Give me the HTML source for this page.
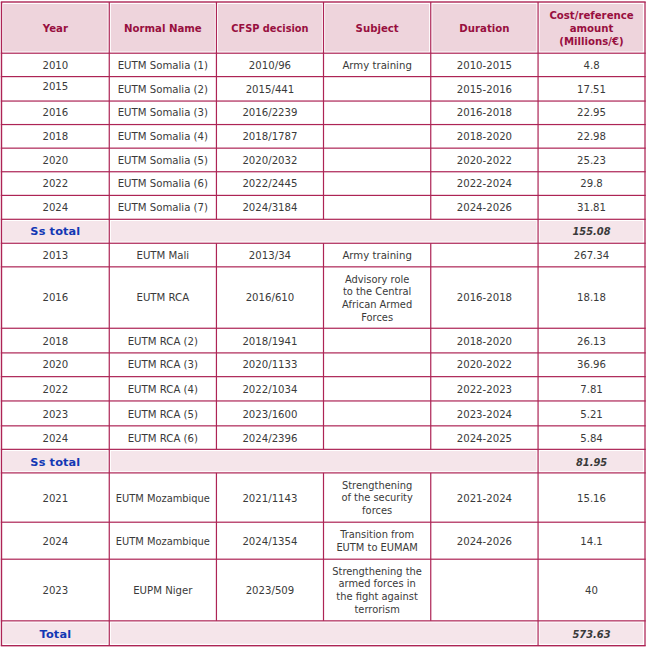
<!DOCTYPE html>
<html lang="en">
<head>
<meta charset="utf-8">
<title>EU military training missions - costs</title>
<style>
html,body{margin:0;padding:0;background:#fff;}
body{width:648px;height:649px;overflow:hidden;position:relative;font-family:"DejaVu Sans","Liberation Sans",sans-serif;}
#t{position:absolute;left:0;top:0;width:648px;height:649px;overflow:hidden;}
svg.g{position:absolute;left:0;top:0;display:block;}
.c{position:absolute;display:flex;align-items:center;justify-content:center;text-align:center;font-size:10.17px;line-height:12.75px;color:#3a3a3a;box-sizing:border-box;}
.c span{display:block;}
.h{font-weight:bold;color:#980f3f;font-size:10.17px;line-height:13.1px;}
.s{font-weight:bold;color:#1238b4;font-size:11.3px;letter-spacing:0.15px;}
.v{font-weight:bold;font-style:italic;color:#3a3a3a;font-size:9.9px;padding-top:0.2px;}
</style>
</head>
<body>
<div id="t">
<svg class="g" width="648" height="649" viewBox="0 0 648 649">
<rect x="3.1" y="4" width="104.56" height="47.5" fill="#eed4dc"/>
<rect x="110.86" y="4" width="103.98" height="47.5" fill="#eed4dc"/>
<rect x="218.04" y="4" width="103.86" height="47.5" fill="#eed4dc"/>
<rect x="325.1" y="4" width="104.05" height="47.5" fill="#eed4dc"/>
<rect x="432.35" y="4" width="104.11" height="47.5" fill="#eed4dc"/>
<rect x="539.66" y="4" width="103.24" height="47.5" fill="#eed4dc"/>
<rect x="3.1" y="221" width="104.56" height="20.55" fill="#f5e5ea"/>
<rect x="110.86" y="221" width="425.6" height="20.55" fill="#f5e5ea"/>
<rect x="539.66" y="221" width="103.24" height="20.55" fill="#f5e5ea"/>
<rect x="3.1" y="451.05" width="104.56" height="20.15" fill="#f5e5ea"/>
<rect x="110.86" y="451.05" width="425.6" height="20.15" fill="#f5e5ea"/>
<rect x="539.66" y="451.05" width="103.24" height="20.15" fill="#f5e5ea"/>
<rect x="3.1" y="622.55" width="104.56" height="21.25" fill="#f5e5ea"/>
<rect x="110.86" y="622.55" width="425.6" height="21.25" fill="#f5e5ea"/>
<rect x="539.66" y="622.55" width="103.24" height="21.25" fill="#f5e5ea"/>
<rect x="0.8" y="1.3" width="644.9" height="1.4" fill="#ad2455"/>
<rect x="0.8" y="52.6" width="644.9" height="1.2" fill="#ad2455"/>
<rect x="0.8" y="76" width="644.9" height="1.2" fill="#ad2455"/>
<rect x="0.8" y="100.45" width="644.9" height="1.2" fill="#ad2455"/>
<rect x="0.8" y="123.95" width="644.9" height="1.2" fill="#ad2455"/>
<rect x="0.8" y="147.55" width="644.9" height="1.2" fill="#ad2455"/>
<rect x="0.8" y="171.15" width="644.9" height="1.2" fill="#ad2455"/>
<rect x="0.8" y="194.8" width="644.9" height="1.2" fill="#ad2455"/>
<rect x="0.8" y="218.7" width="644.9" height="1.2" fill="#ad2455"/>
<rect x="0.8" y="242.65" width="644.9" height="1.2" fill="#ad2455"/>
<rect x="0.8" y="266.25" width="644.9" height="1.2" fill="#ad2455"/>
<rect x="0.8" y="327.65" width="644.9" height="1.2" fill="#ad2455"/>
<rect x="0.8" y="352.3" width="644.9" height="1.2" fill="#ad2455"/>
<rect x="0.8" y="376.05" width="644.9" height="1.2" fill="#ad2455"/>
<rect x="0.8" y="400.35" width="644.9" height="1.2" fill="#ad2455"/>
<rect x="0.8" y="425.25" width="644.9" height="1.2" fill="#ad2455"/>
<rect x="0.8" y="448.75" width="644.9" height="1.2" fill="#ad2455"/>
<rect x="0.8" y="472.3" width="644.9" height="1.2" fill="#ad2455"/>
<rect x="0.8" y="521.6" width="644.9" height="1.2" fill="#ad2455"/>
<rect x="0.8" y="558.6" width="644.9" height="1.2" fill="#ad2455"/>
<rect x="0.8" y="620.25" width="644.9" height="1.2" fill="#ad2455"/>
<rect x="0.8" y="645" width="644.9" height="1.4" fill="#ad2455"/>
<rect x="0.8" y="2" width="1.4" height="643.7" fill="#ad2455"/>
<rect x="108.66" y="2" width="1.2" height="643.7" fill="#ad2455"/>
<rect x="215.84" y="2" width="1.2" height="217.3" fill="#ad2455"/>
<rect x="215.84" y="243.25" width="1.2" height="206.1" fill="#ad2455"/>
<rect x="215.84" y="472.9" width="1.2" height="147.95" fill="#ad2455"/>
<rect x="322.9" y="2" width="1.2" height="217.3" fill="#ad2455"/>
<rect x="322.9" y="243.25" width="1.2" height="206.1" fill="#ad2455"/>
<rect x="322.9" y="472.9" width="1.2" height="147.95" fill="#ad2455"/>
<rect x="430.15" y="2" width="1.2" height="217.3" fill="#ad2455"/>
<rect x="430.15" y="243.25" width="1.2" height="206.1" fill="#ad2455"/>
<rect x="430.15" y="472.9" width="1.2" height="147.95" fill="#ad2455"/>
<rect x="537.46" y="2" width="1.2" height="643.7" fill="#ad2455"/>
<rect x="644.38" y="2" width="1.25" height="643.7" fill="#ad2455"/>
</svg>
<div class="c h" style="left:1.5px;top:3.3px;width:107.76px;height:51.2px"><span>Year</span></div>
<div class="c h" style="left:109.26px;top:3.3px;width:107.18px;height:51.2px"><span>Normal Name</span></div>
<div class="c h" style="left:216.44px;top:3.3px;width:107.06px;height:51.2px;font-size:9.8px"><span>CFSP decision</span></div>
<div class="c h" style="left:323.5px;top:3.3px;width:107.25px;height:51.2px"><span>Subject</span></div>
<div class="c h" style="left:430.75px;top:3.3px;width:107.31px;height:51.2px"><span>Duration</span></div>
<div class="c h" style="left:538.06px;top:2.7px;width:106.94px;height:51.2px"><span>Cost/reference<br>amount<br>(Millions/€)</span></div>
<div class="c d" style="left:1.5px;top:54.3px;width:107.76px;height:23.4px"><span>2010</span></div>
<div class="c d" style="left:109.26px;top:54.3px;width:107.18px;height:23.4px"><span>EUTM Somalia (1)</span></div>
<div class="c d" style="left:216.44px;top:54.3px;width:107.06px;height:23.4px"><span>2010/96</span></div>
<div class="c d" style="left:323.5px;top:54.3px;width:107.25px;height:23.4px"><span>Army training</span></div>
<div class="c d" style="left:430.75px;top:54.3px;width:107.31px;height:23.4px"><span>2010-2015</span></div>
<div class="c d" style="left:538.06px;top:54.3px;width:106.94px;height:23.4px"><span>4.8</span></div>
<div class="c d" style="left:1.5px;top:74.7px;width:107.76px;height:24.45px"><span>2015</span></div>
<div class="c d" style="left:109.26px;top:77.7px;width:107.18px;height:24.45px"><span>EUTM Somalia (2)</span></div>
<div class="c d" style="left:216.44px;top:77.7px;width:107.06px;height:24.45px"><span>2015/441</span></div>
<div class="c d" style="left:430.75px;top:77.7px;width:107.31px;height:24.45px"><span>2015-2016</span></div>
<div class="c d" style="left:538.06px;top:77.7px;width:106.94px;height:24.45px"><span>17.51</span></div>
<div class="c d" style="left:1.5px;top:101.15px;width:107.76px;height:23.5px"><span>2016</span></div>
<div class="c d" style="left:109.26px;top:101.15px;width:107.18px;height:23.5px"><span>EUTM Somalia (3)</span></div>
<div class="c d" style="left:216.44px;top:101.15px;width:107.06px;height:23.5px"><span>2016/2239</span></div>
<div class="c d" style="left:430.75px;top:101.15px;width:107.31px;height:23.5px"><span>2016-2018</span></div>
<div class="c d" style="left:538.06px;top:101.15px;width:106.94px;height:23.5px"><span>22.95</span></div>
<div class="c d" style="left:1.5px;top:125.65px;width:107.76px;height:23.6px"><span>2018</span></div>
<div class="c d" style="left:109.26px;top:125.65px;width:107.18px;height:23.6px"><span>EUTM Somalia (4)</span></div>
<div class="c d" style="left:216.44px;top:125.65px;width:107.06px;height:23.6px"><span>2018/1787</span></div>
<div class="c d" style="left:430.75px;top:125.65px;width:107.31px;height:23.6px"><span>2018-2020</span></div>
<div class="c d" style="left:538.06px;top:125.65px;width:106.94px;height:23.6px"><span>22.98</span></div>
<div class="c d" style="left:1.5px;top:149.25px;width:107.76px;height:23.6px"><span>2020</span></div>
<div class="c d" style="left:109.26px;top:149.25px;width:107.18px;height:23.6px"><span>EUTM Somalia (5)</span></div>
<div class="c d" style="left:216.44px;top:149.25px;width:107.06px;height:23.6px"><span>2020/2032</span></div>
<div class="c d" style="left:430.75px;top:149.25px;width:107.31px;height:23.6px"><span>2020-2022</span></div>
<div class="c d" style="left:538.06px;top:149.25px;width:106.94px;height:23.6px"><span>25.23</span></div>
<div class="c d" style="left:1.5px;top:172.85px;width:107.76px;height:23.65px"><span>2022</span></div>
<div class="c d" style="left:109.26px;top:172.85px;width:107.18px;height:23.65px"><span>EUTM Somalia (6)</span></div>
<div class="c d" style="left:216.44px;top:172.85px;width:107.06px;height:23.65px"><span>2022/2445</span></div>
<div class="c d" style="left:430.75px;top:172.85px;width:107.31px;height:23.65px"><span>2022-2024</span></div>
<div class="c d" style="left:538.06px;top:172.85px;width:106.94px;height:23.65px"><span>29.8</span></div>
<div class="c d" style="left:1.5px;top:196.5px;width:107.76px;height:23.9px"><span>2024</span></div>
<div class="c d" style="left:109.26px;top:196.5px;width:107.18px;height:23.9px"><span>EUTM Somalia (7)</span></div>
<div class="c d" style="left:216.44px;top:196.5px;width:107.06px;height:23.9px"><span>2024/3184</span></div>
<div class="c d" style="left:430.75px;top:196.5px;width:107.31px;height:23.9px"><span>2024-2026</span></div>
<div class="c d" style="left:538.06px;top:196.5px;width:106.94px;height:23.9px"><span>31.81</span></div>
<div class="c s" style="left:1.5px;top:220.4px;width:107.76px;height:23.95px"><span>Ss total</span></div>
<div class="c v" style="left:538.06px;top:220.4px;width:106.94px;height:23.95px"><span>155.08</span></div>
<div class="c d" style="left:1.5px;top:244.35px;width:107.76px;height:23.6px"><span>2013</span></div>
<div class="c d" style="left:109.26px;top:244.35px;width:107.18px;height:23.6px"><span>EUTM Mali</span></div>
<div class="c d" style="left:216.44px;top:244.35px;width:107.06px;height:23.6px"><span>2013/34</span></div>
<div class="c d" style="left:323.5px;top:244.35px;width:107.25px;height:23.6px"><span>Army training</span></div>
<div class="c d" style="left:538.06px;top:244.35px;width:106.94px;height:23.6px"><span>267.34</span></div>
<div class="c d" style="left:1.5px;top:267.95px;width:107.76px;height:61.4px"><span>2016</span></div>
<div class="c d" style="left:109.26px;top:267.95px;width:107.18px;height:61.4px"><span>EUTM RCA</span></div>
<div class="c d" style="left:216.44px;top:267.95px;width:107.06px;height:61.4px"><span>2016/610</span></div>
<div class="c d" style="left:323.5px;top:268.55px;width:107.25px;height:61.4px;font-size:9.9px"><span>Advisory role<br>to the Central<br>African Armed<br>Forces</span></div>
<div class="c d" style="left:430.75px;top:267.95px;width:107.31px;height:61.4px"><span>2016-2018</span></div>
<div class="c d" style="left:538.06px;top:267.95px;width:106.94px;height:61.4px"><span>18.18</span></div>
<div class="c d" style="left:1.5px;top:330.35px;width:107.76px;height:24.65px"><span>2018</span></div>
<div class="c d" style="left:109.26px;top:330.35px;width:107.18px;height:24.65px"><span>EUTM RCA (2)</span></div>
<div class="c d" style="left:216.44px;top:330.35px;width:107.06px;height:24.65px"><span>2018/1941</span></div>
<div class="c d" style="left:430.75px;top:330.35px;width:107.31px;height:24.65px"><span>2018-2020</span></div>
<div class="c d" style="left:538.06px;top:330.35px;width:106.94px;height:24.65px"><span>26.13</span></div>
<div class="c d" style="left:1.5px;top:353px;width:107.76px;height:23.75px"><span>2020</span></div>
<div class="c d" style="left:109.26px;top:353px;width:107.18px;height:23.75px"><span>EUTM RCA (3)</span></div>
<div class="c d" style="left:216.44px;top:353px;width:107.06px;height:23.75px"><span>2020/1133</span></div>
<div class="c d" style="left:430.75px;top:353px;width:107.31px;height:23.75px"><span>2020-2022</span></div>
<div class="c d" style="left:538.06px;top:353px;width:106.94px;height:23.75px"><span>36.96</span></div>
<div class="c d" style="left:1.5px;top:377.75px;width:107.76px;height:24.3px"><span>2022</span></div>
<div class="c d" style="left:109.26px;top:377.75px;width:107.18px;height:24.3px"><span>EUTM RCA (4)</span></div>
<div class="c d" style="left:216.44px;top:377.75px;width:107.06px;height:24.3px"><span>2022/1034</span></div>
<div class="c d" style="left:430.75px;top:377.75px;width:107.31px;height:24.3px"><span>2022-2023</span></div>
<div class="c d" style="left:538.06px;top:377.75px;width:106.94px;height:24.3px"><span>7.81</span></div>
<div class="c d" style="left:1.5px;top:403.05px;width:107.76px;height:24.9px"><span>2023</span></div>
<div class="c d" style="left:109.26px;top:403.05px;width:107.18px;height:24.9px"><span>EUTM RCA (5)</span></div>
<div class="c d" style="left:216.44px;top:403.05px;width:107.06px;height:24.9px"><span>2023/1600</span></div>
<div class="c d" style="left:430.75px;top:403.05px;width:107.31px;height:24.9px"><span>2023-2024</span></div>
<div class="c d" style="left:538.06px;top:403.05px;width:106.94px;height:24.9px"><span>5.21</span></div>
<div class="c d" style="left:1.5px;top:427.95px;width:107.76px;height:23.5px"><span>2024</span></div>
<div class="c d" style="left:109.26px;top:427.95px;width:107.18px;height:23.5px"><span>EUTM RCA (6)</span></div>
<div class="c d" style="left:216.44px;top:427.95px;width:107.06px;height:23.5px"><span>2024/2396</span></div>
<div class="c d" style="left:430.75px;top:427.95px;width:107.31px;height:23.5px"><span>2024-2025</span></div>
<div class="c d" style="left:538.06px;top:427.95px;width:106.94px;height:23.5px"><span>5.84</span></div>
<div class="c s" style="left:1.5px;top:451.45px;width:107.76px;height:23.55px"><span>Ss total</span></div>
<div class="c v" style="left:538.06px;top:451.45px;width:106.94px;height:23.55px"><span>81.95</span></div>
<div class="c d" style="left:1.5px;top:475.2px;width:107.76px;height:49.3px"><span>2021</span></div>
<div class="c d" style="left:109.26px;top:475.2px;width:107.18px;height:49.3px;font-size:9.9px"><span>EUTM Mozambique</span></div>
<div class="c d" style="left:216.44px;top:475.2px;width:107.06px;height:49.3px"><span>2021/1143</span></div>
<div class="c d" style="left:323.5px;top:474.2px;width:107.25px;height:49.3px;font-size:9.9px"><span>Strengthening<br>of the security<br>forces</span></div>
<div class="c d" style="left:430.75px;top:475.2px;width:107.31px;height:49.3px"><span>2021-2024</span></div>
<div class="c d" style="left:538.06px;top:475.2px;width:106.94px;height:49.3px"><span>15.16</span></div>
<div class="c d" style="left:1.5px;top:523.5px;width:107.76px;height:37px"><span>2024</span></div>
<div class="c d" style="left:109.26px;top:523.5px;width:107.18px;height:37px;font-size:9.9px"><span>EUTM Mozambique</span></div>
<div class="c d" style="left:216.44px;top:523.5px;width:107.06px;height:37px"><span>2024/1354</span></div>
<div class="c d" style="left:323.5px;top:523.5px;width:107.25px;height:37px;font-size:9.9px"><span>Transition from<br>EUTM to EUMAM</span></div>
<div class="c d" style="left:430.75px;top:523.5px;width:107.31px;height:37px"><span>2024-2026</span></div>
<div class="c d" style="left:538.06px;top:523.5px;width:106.94px;height:37px"><span>14.1</span></div>
<div class="c d" style="left:1.5px;top:560.3px;width:107.76px;height:61.65px"><span>2023</span></div>
<div class="c d" style="left:109.26px;top:560.3px;width:107.18px;height:61.65px"><span>EUPM Niger</span></div>
<div class="c d" style="left:216.44px;top:560.3px;width:107.06px;height:61.65px"><span>2023/509</span></div>
<div class="c d" style="left:323.5px;top:560.3px;width:107.25px;height:61.65px;font-size:9.9px"><span>Strengthening the<br>armed forces in<br>the fight against<br>terrorism</span></div>
<div class="c d" style="left:538.06px;top:560.3px;width:106.94px;height:61.65px"><span>40</span></div>
<div class="c s" style="left:1.5px;top:622.95px;width:107.76px;height:24.85px"><span>Total</span></div>
<div class="c v" style="left:538.06px;top:622.95px;width:106.94px;height:24.85px"><span>573.63</span></div>
</div>
</body>
</html>
